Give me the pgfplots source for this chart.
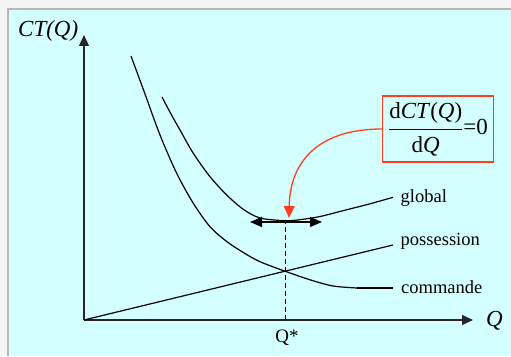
\documentclass[border=0pt]{standalone}
\usepackage{pgfplots}
\pgfplotsset{compat=1.18}
\usepackage{fontspec}
\setmainfont{Liberation Serif}
\usetikzlibrary{arrows.meta}
\definecolor{bgc}{HTML}{D4FFFF}
\definecolor{outerc}{HTML}{F4F4F4}
\definecolor{brd}{HTML}{B8B8B8}
\definecolor{redc}{HTML}{FF4020}
\begin{document}
\begin{tikzpicture}[x=1pt,y=1pt]
\useasboundingbox (0,0) rectangle (511,356);
\fill[outerc] (0,0) rectangle (511,356);
\fill[bgc] (8,0) rectangle (511,347);
\draw[brd, line width=1.2pt] (8,0) -- (8,347) -- (511,347);
\begin{axis}[at={(84pt,36pt)}, anchor=south west,
  x=1pt, y=1pt, xmin=0, xmax=389, ymin=0, ymax=285,
  axis lines=left, clip=false,
  axis line style={line width=1.2pt, black!85},
  x axis line style={-{Triangle[length=11pt,width=10pt]}},
  y axis line style={-{Triangle[length=11pt,width=10pt]}},
  xtick=\empty, ytick=\empty,
  major tick length=0pt,
]
% possession
\addplot[black, line width=1.2pt] coordinates {(0,0) (309,75)};
% commande
\addplot[black, line width=1.2pt, smooth] coordinates {
(47,264) (61,226) (76,185) (92.7,146.7) (109.3,116.7) (126,93.3) (142.7,78.5) (159.3,67.5) (176,58.3) (201,48.8) (226,40.2) (249,34) (273,32)};
\addplot[black, line width=1.2pt] coordinates {(273,32) (309,32)};
% global
\addplot[black, line width=1.2pt, smooth] coordinates {
(78,223) (87,206) (96,190) (109.3,166.7) (126,143.3) (142.7,125) (159.3,110.7) (176,102) (201,99.3) (216,100.3) (236,103.5) (259,109.3) (286,116.2) (309,122.7)};
% dashed Q*
\addplot[black, line width=1pt, dash pattern=on 5pt off 3pt] coordinates {(201,0) (201,98)};
% double arrow
\addplot[black, line width=1.2pt, {Triangle[length=12pt,width=10pt]}-{Triangle[length=12pt,width=10pt]}] coordinates {(166,98) (238,98)};
% red arrow
\draw[redc, line width=1.3pt, -{Triangle[length=12pt,width=11pt]}] (axis cs:298,191) .. controls (axis cs:236,191) and (axis cs:206,160) .. (axis cs:205,102);
% formula box
\node[draw=redc, line width=1.3pt, fill=bgc, minimum width=111pt, minimum height=66pt, inner sep=2pt] at (axis cs:354,191)
 {\fontsize{23}{27}\selectfont$\displaystyle\frac{\hbox{d\textit{CT}(\textit{Q})}}{\hbox{d\textit{Q}}}\hbox{=0}$};
% labels
\node[anchor=base west, inner sep=0pt, font=\fontsize{18.5}{20}\selectfont] at (axis cs:316.5,117) {global};
\node[anchor=base west, inner sep=0pt, font=\fontsize{18.5}{20}\selectfont] at (axis cs:316.5,74) {possession};
\node[anchor=base west, inner sep=0pt, font=\fontsize{18.5}{20}\selectfont] at (axis cs:317,27) {commande};
\node[inner sep=0pt, font=\fontsize{19}{20}\selectfont] at (axis cs:203,-18) {Q*};
\node[anchor=base west, inner sep=0pt, font=\fontsize{23}{26}\selectfont\itshape] at (axis cs:-66,283) {CT(Q)};
\node[anchor=base west, inner sep=0pt, font=\fontsize{23}{26}\selectfont\itshape] at (axis cs:402,-6) {Q};
\end{axis}
\end{tikzpicture}
\end{document}
